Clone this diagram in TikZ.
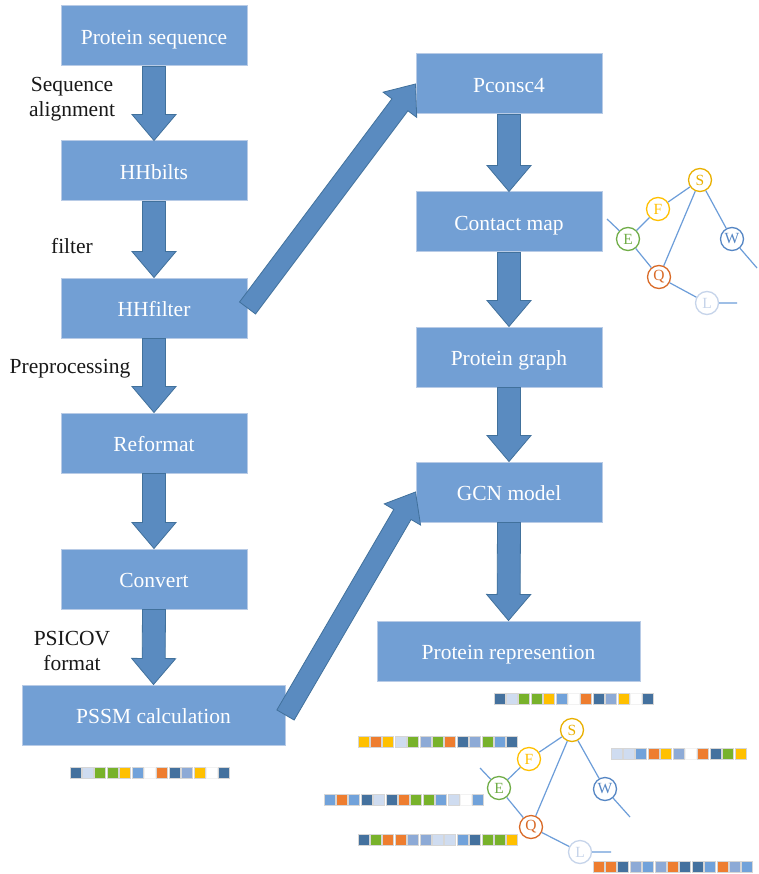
\documentclass[tikz,border=0pt]{standalone}
\usepackage{fontspec}
\setmainfont{Liberation Serif}
\usetikzlibrary{calc}
\definecolor{boxfill}{HTML}{729FD4}
\definecolor{boxline}{HTML}{B8CBE6}
\definecolor{arrfill}{HTML}{5A8BC0}
\definecolor{arrline}{HTML}{41719C}
\definecolor{edgec}{HTML}{6C9DD9}
\definecolor{cS}{HTML}{E9B000}
\definecolor{cF}{HTML}{FFC000}
\definecolor{cE}{HTML}{70AD47}
\definecolor{cW}{HTML}{5586C4}
\definecolor{cQ}{HTML}{D96A27}
\definecolor{cL}{HTML}{C6D4EA}
\definecolor{xdb}{HTML}{44719E}
\definecolor{xpb}{HTML}{CFDCF0}
\definecolor{xgr}{HTML}{78B22B}
\definecolor{xye}{HTML}{FFC000}
\definecolor{xmb}{HTML}{71A2DA}
\definecolor{xlm}{HTML}{8DAAD6}
\definecolor{xor}{HTML}{EE7D2F}
\newcommand\blockarrow[5]{%
  \coordinate (ba-h) at ($(#2)!#5!(#1)$);
  \path[blockarr] ($(#1)!#3!90:(#2)$) -- ($(ba-h)!#3!-90:(#1)$) -- ($(ba-h)!#4!-90:(#1)$) -- (#2)
    -- ($(ba-h)!#4!90:(#1)$) -- ($(ba-h)!#3!90:(#1)$) -- ($(#1)!#3!-90:(#2)$) -- cycle;
}
\newcommand\cellstrip[2]{%
  \foreach \c [count=\i from 0] in {#2} {
    \path[cell,\c] ($(#1)+(\i*12.4,0)$) rectangle ++(11,11);
  }
}
\tikzset{
  box/.style={draw=boxline, line width=1pt, fill=boxfill, minimum width=186pt, minimum height=60pt,
    text=white, font=\fontsize{21.5}{25}\selectfont, inner sep=0pt, text height=17.5pt, text depth=1pt},
  widebox/.style={box, minimum width=263pt},
  lbl/.style={font=\fontsize{21.5}{24.5}\selectfont, text=black!90, align=center, inner sep=0pt},
  blockarr/.style={fill=arrfill, draw=arrline, line width=0.8pt, line join=miter},
  gnode/.style={circle, draw, fill=white, line width=1.3pt, minimum size=23pt, inner sep=0pt,
    font=\fontsize{15.5}{15.5}\selectfont},
  gedge/.style={draw=edgec, line width=1.2pt},
  cell/.style={draw=black!16, line width=0.9pt},
  db/.style={fill=xdb}, pb/.style={fill=xpb}, gr/.style={fill=xgr}, ye/.style={fill=xye},
  mb/.style={fill=xmb}, lm/.style={fill=xlm}, or/.style={fill=xor}, wh/.style={fill=white, draw=black!5},
}
\begin{document}
\begin{tikzpicture}[x=1pt,y=-1pt]
\useasboundingbox[fill=white] (0,0) rectangle (759,874);
% left column
\node[box] (ps) at (154,36) {Protein sequence};
\node[box] (hhb) at (154,171) {HHbilts};
\node[box] (hhf) at (154,308) {HHfilter};
\node[box] (ref) at (154,443) {Reformat};
\node[box] (conv) at (154,579) {Convert};
\node[widebox] (pssm) at (153.5,715) {PSSM calculation};
% right column
\node[box] (pc) at (509,84) {Pconsc4};
\node[box] (cm) at (509,222) {Contact map};
\node[box] (pg) at (509,357) {Protein graph};
\node[box] (gcn) at (509,492) {GCN model};
\node[widebox] (pr) at (508.5,651) {Protein represention};
% labels
\node[lbl] (l1) at (72,99) {Sequence\\alignment};
\node[lbl] (l2) at (72,246) {filter};
\node[lbl] (l3) at (70,369) {Preprocessing};
\node[lbl] (l4) at (72,651) {PSICOV\\format};
% block arrows
\blockarrow{ps.south}{hhb.north}{11.5pt}{22pt}{26pt}
\blockarrow{hhb.south}{hhf.north}{11.5pt}{22pt}{26pt}
\blockarrow{hhf.south}{ref.north}{11.5pt}{22pt}{26pt}
\blockarrow{ref.south}{conv.north}{11.5pt}{22pt}{26pt}
\blockarrow{conv.south}{pssm.north}{11.5pt}{22pt}{26pt}
\blockarrow{pc.south}{cm.north}{11.5pt}{22pt}{26pt}
\blockarrow{cm.south}{pg.north}{11.5pt}{22pt}{26pt}
\blockarrow{pg.south}{gcn.north}{11.5pt}{22pt}{26pt}
\blockarrow{gcn.south}{pr.north}{11.5pt}{22pt}{26pt}
\blockarrow{hhf.east}{pc.west}{10pt}{21pt}{26pt}
\blockarrow{pssm.east}{gcn.west}{10pt}{21pt}{26pt}
% top graph
\node[gnode, draw=cS, text=cS] (s1) at (700,180) {S};
\node[gnode, draw=cF, text=cF] (f1) at (658,209) {F};
\node[gnode, draw=cE, text=cE] (e1) at (628,239) {E};
\node[gnode, draw=cW, text=cW] (w1) at (732,239) {W};
\node[gnode, draw=cQ, text=cQ] (q1) at (659,277) {Q};
\node[gnode, draw=cL, text=cL] (lz1) at (707,303) {L};
\coordinate (e1x) at (607,219);
\coordinate (w1x) at (757,268);
\coordinate (l1x) at (737,303);
\draw[gedge] (e1x) -- (e1) (e1) -- (f1) (f1) -- (s1) (s1) -- (q1) (s1) -- (w1) (e1) -- (q1)
  (q1) -- (lz1) (w1) -- (w1x) (lz1) -- (l1x);
% bottom graph
\node[gnode, draw=cS, text=cS] (s2) at (572,730) {S};
\node[gnode, draw=cF, text=cF] (f2) at (529,759) {F};
\node[gnode, draw=cE, text=cE] (e2) at (499,788) {E};
\node[gnode, draw=cW, text=cW] (w2) at (605,789) {W};
\node[gnode, draw=cQ, text=cQ] (q2) at (531,827) {Q};
\node[gnode, draw=cL, text=cL] (lz2) at (580,852) {L};
\coordinate (e2x) at (480,768);
\coordinate (w2x) at (630,817);
\coordinate (l2x) at (611,852);
\draw[gedge] (e2x) -- (e2) (e2) -- (f2) (f2) -- (s2) (s2) -- (q2) (s2) -- (w2) (e2) -- (q2)
  (q2) -- (lz2) (w2) -- (w2x) (lz2) -- (l2x);
% strips
\cellstrip{494,693}{db,pb,gr,gr,ye,mb,wh,or,db,lm,ye,wh,db}
\cellstrip{70,767}{db,pb,gr,gr,ye,mb,wh,or,db,lm,ye,wh,db}
\cellstrip{358,736}{ye,or,ye,pb,gr,lm,gr,or,db,lm,gr,mb,db}
\cellstrip{324,794}{mb,or,mb,db,pb,db,or,gr,gr,mb,pb,wh,mb}
\cellstrip{358,834}{db,gr,or,or,lm,lm,pb,pb,mb,db,gr,gr,ye}
\cellstrip{611,748}{pb,pb,mb,or,ye,lm,wh,or,db,gr,ye}
\cellstrip{593,861}{or,or,db,lm,mb,lm,or,db,db,mb,or,lm,mb}
\end{tikzpicture}
\end{document}
